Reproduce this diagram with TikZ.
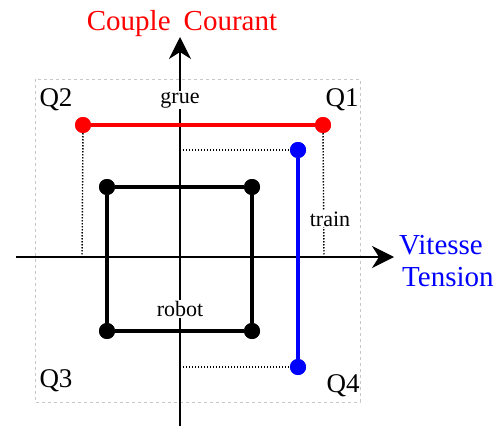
\documentclass[tikz,border=0pt]{standalone}
\usepackage{fontspec}
\setmainfont{Liberation Serif}
\usetikzlibrary{arrows.meta}
\begin{document}
\begin{tikzpicture}[x=1pt,y=-1pt,
  axis/.style={line width=1.8pt,-{Stealth[length=22pt,width=22pt,inset=7pt]}},
  dotc/.style={circle,fill=#1,inner sep=0pt,minimum size=16pt},
  thick line/.style={line width=3.8pt,draw=#1},
  guide/.style={dash pattern=on 1.3pt off 1.7pt,line width=1.4pt},
  frame/.style={draw=black!22,dashed,line width=0.7pt},
  lbl/.style={font=\fontsize{22}{24}\selectfont,fill=white,inner sep=1pt},
  qlbl/.style={font=\fontsize{27}{29}\selectfont,inner sep=0pt},
  title/.style={font=\fontsize{29}{31}\selectfont,inner sep=0pt}]
\useasboundingbox (0,0) rectangle (500,433);
% frame
\draw[frame] (35,79) rectangle (360,402);
% coordinates
\coordinate (xl) at (16,257);
\coordinate (xr) at (394,257);
\coordinate (yb) at (180,426);
\coordinate (yt) at (180,37);
\coordinate (g1) at (82,257);
\coordinate (g2) at (324,257);
\coordinate (h1) at (180,150);
\coordinate (h2) at (180,367);
% axes
\draw[axis] (xl) -- (xr);
\draw[axis] (yb) -- (yt);
% dots
\node[dotc=red] (r1) at (83,125) {};
\node[dotc=red] (r2) at (323,125) {};
\node[dotc=blue] (b1) at (298,150) {};
\node[dotc=blue] (b2) at (298,367) {};
\node[dotc=black] (k1) at (107,187) {};
\node[dotc=black] (k2) at (252,187) {};
\node[dotc=black] (k3) at (252,331) {};
\node[dotc=black] (k4) at (107,331) {};
% guides
\draw[guide] (r1) -- (g1);
\draw[guide] (r2) -- (g2);
\draw[guide] (h1) -- (b1);
\draw[guide] (h2) -- (b2);
% curves
\draw[thick line=red] (r1) -- (r2);
\draw[thick line=blue] (b1) -- (b2);
\draw[thick line=black] (k1) -- (k2) -- (k3) -- (k4) -- (k1);
\node[dotc=red] at (r1) {};
\node[dotc=red] at (r2) {};
\node[dotc=blue] at (b1) {};
\node[dotc=blue] at (b2) {};
\foreach \k in {k1,k2,k3,k4} \node[dotc=black] at (\k) {};
% labels
\node[lbl] (grue) at (180,100) {grue};
\node[lbl] (robot) at (180,309) {robot};
\node[lbl] (train) at (330,219) {train};
\node[qlbl] (q2) at (56,100) {Q2};
\node[qlbl] (q1) at (342,100) {Q1};
\node[qlbl] (q3) at (56,381) {Q3};
\node[qlbl] (q4) at (343,386) {Q4};
\node[title,text=red] (couple) at (182,24) {Couple\hspace{0.45em}Courant};
\node[title,text=blue,anchor=west] (vit) at (399,245) {Vitesse};
\node[title,text=blue,anchor=west] (ten) at (402,277) {Tension};
\end{tikzpicture}
\end{document}
